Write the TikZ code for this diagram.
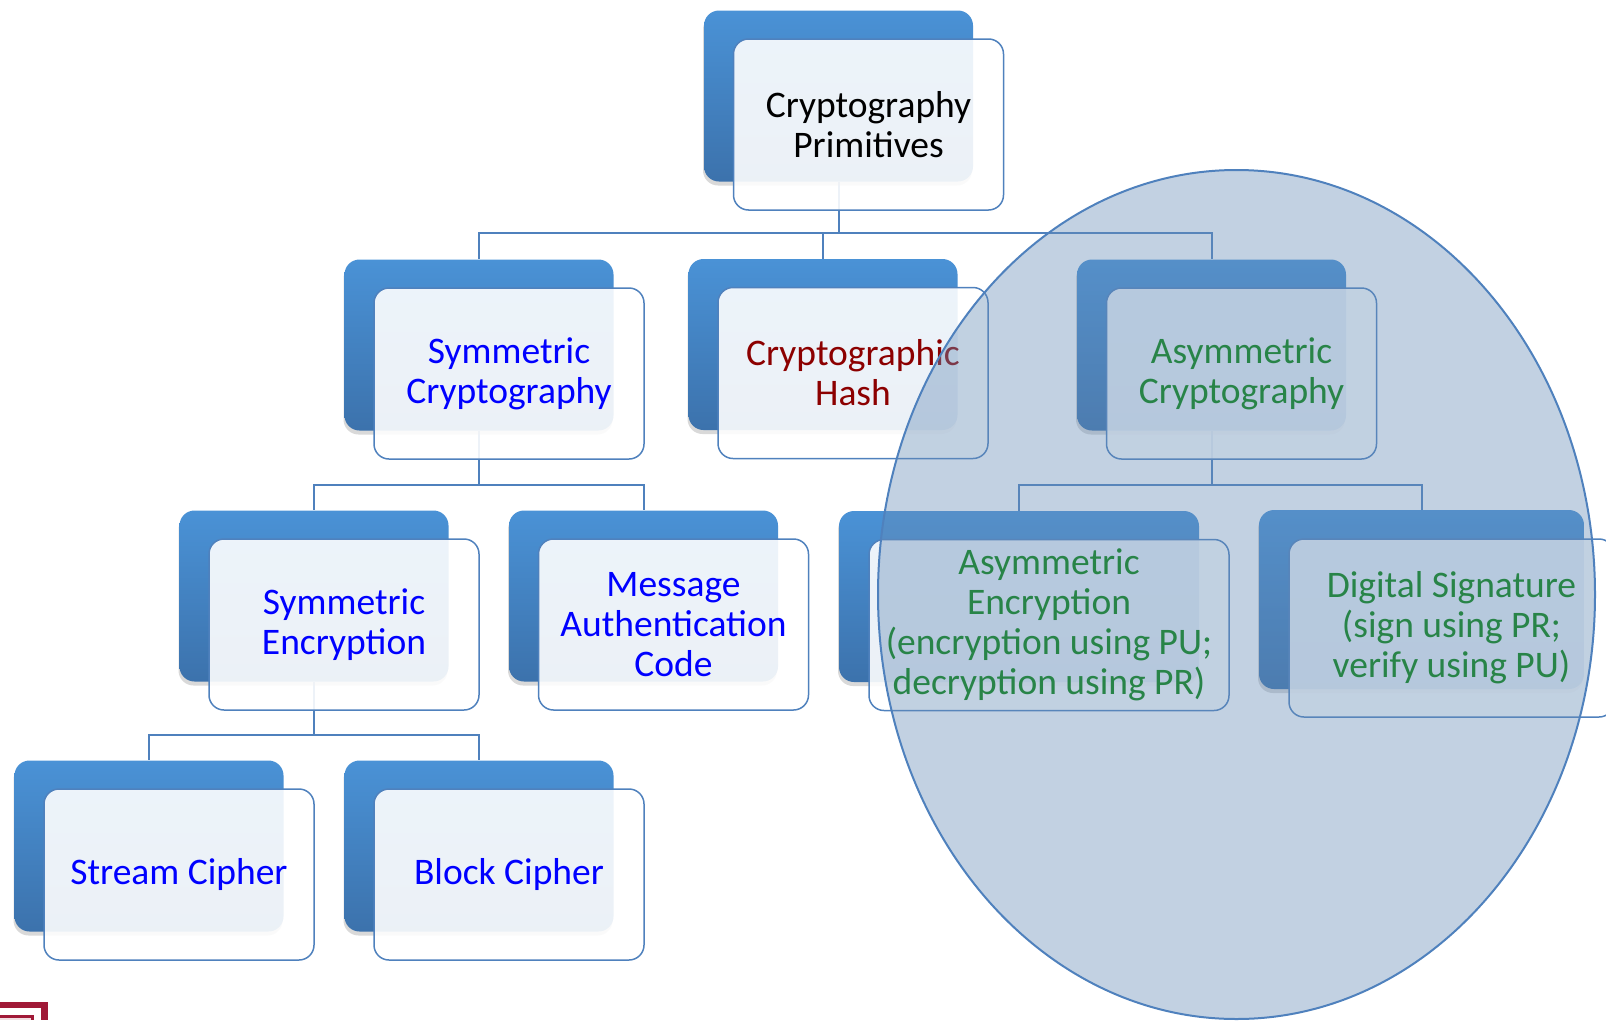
\documentclass[tikz,border=0pt]{standalone}
\usepackage{fontspec}
\setmainfont{Carlito}
\usetikzlibrary{backgrounds}
\usetikzlibrary{shapes,shadows}
\definecolor{boxtop}{RGB}{74,146,214}
\definecolor{boxbot}{RGB}{60,114,172}
\definecolor{edgeblue}{RGB}{79,129,189}
\definecolor{areablue}{RGB}{102,140,182}
\definecolor{hashred}{RGB}{140,0,0}
\definecolor{asymgreen}{RGB}{0,128,0}
\definecolor{logored}{RGB}{160,25,55}
\begin{document}
\begin{tikzpicture}[x=1pt, y=-1pt, semithick]
 % Define block styles
\tikzstyle{backbox} = [rectangle, rounded corners=15pt, top color=boxtop, bottom color=boxbot, draw=none, minimum width=269pt, minimum height=171pt, inner sep=0pt, drop shadow={opacity=0.3, shadow xshift=-1pt, shadow yshift=-4pt}]
\tikzstyle{frontbox} = [rectangle, rounded corners=15pt, draw=edgeblue, line width=1.5pt, fill=white, fill opacity=0.9, text opacity=1, minimum width=270pt, minimum height=171pt, inner sep=0pt, align=center, font=\fontsize{37.5pt}{40pt}\selectfont, xshift=30pt, yshift=-28.5pt]
\tikzstyle{link} = [draw=edgeblue, line width=2pt]
\tikzstyle{highlight} = [draw=edgeblue, line width=2pt, fill=areablue, fill opacity=0.4]
\useasboundingbox (0,0) rectangle (1606,1020);
%%====Definizione nodi e posizione===============================================================
	\node	[backbox]	(top)		at (838.5,96)	{};
	\node	[frontbox]	(topf)		at (top)		{Cryptography\\Primitives};
	\node	[backbox]	(symc)		at (479,345)	{};
	\node	[frontbox, text=blue]	(symcf)	at (symc)	{Symmetric\\Cryptography};
	\node	[backbox]	(hash)		at (823,344.5)	{};
	\node	[frontbox, text=hashred]	(hashf)	at (hash)	{Cryptographic\\Hash};
	\node	[backbox]	(asymc)		at (1211.5,345)	{};
	\node	[frontbox, text=asymgreen]	(asymcf)	at (asymc)	{Asymmetric\\Cryptography};
	\node	[backbox]	(syme)		at (314,596)	{};
	\node	[frontbox, text=blue]	(symef)	at (syme)	{Symmetric\\Encryption};
	\node	[backbox]	(mac)		at (643.5,596)	{};
	\node	[frontbox, text=blue]	(macf)	at (mac)	{Message\\Authentication\\Code};
	\node	[backbox, minimum width=360pt]	(asyme)	at (1019,596.5)	{};
	\node	[frontbox, minimum width=360pt, text=asymgreen]	(asymef)	at (asyme)	{Asymmetric\\Encryption\\(encryption using PU;\\decryption using PR)};
	\node	[backbox, minimum width=325pt, minimum height=179pt]	(dsig)	at (1421.5,599.5)	{};
	\node	[frontbox, minimum width=325pt, minimum height=178pt, text=asymgreen]	(dsigf)	at (dsig)	{Digital Signature\\(sign using PR;\\verify using PU)};
	\node	[backbox]	(stream)	at (149,846)	{};
	\node	[frontbox, text=blue]	(streamf)	at (stream)	{Stream Cipher};
	\node	[backbox]	(block)		at (479,846)	{};
	\node	[frontbox, text=blue]	(blockf)	at (block)	{Block Cipher};
%%====Collegamenti===============================================================
\begin{scope}[on background layer]
	\draw	[link]	(top.south) -- ++(0,51) -| (symc.north);
	\draw	[link]	(top.south) -- ++(0,51) -| (hash.north);
	\draw	[link]	(top.south) -- ++(0,51) -| (asymc.north);
	\draw	[link]	(symc.south) -- ++(0,54) -| (syme.north);
	\draw	[link]	(symc.south) -- ++(0,54) -| (mac.north);
	\draw	[link]	(asymc.south) -- ++(0,54) -| (asyme.north);
	\draw	[link]	(asymc.south) -- ++(0,54) -| (dsig.north);
	\draw	[link]	(syme.south) -- ++(0,53) -| (stream.north);
	\draw	[link]	(syme.south) -- ++(0,53) -| (block.north);
\end{scope}
%	public key area
	\draw	[highlight]	(1236.5,594.5) ellipse [x radius=358.5pt, y radius=424.5pt];
%	logo corner
	\fill	[logored]	(0,1002) rectangle (48,1020);
	\fill	[white]		(0,1008) rectangle (41,1020);
	\fill	[logored]	(0,1015) rectangle (34,1020);
	\fill	[white!85!logored]	(0,1018) rectangle (31,1020);
\end{tikzpicture}
\end{document}
